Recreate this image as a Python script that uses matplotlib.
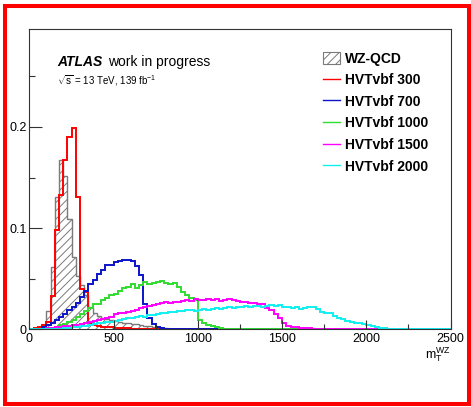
"""
plot.py
=======
Normalised transverse-mass shapes of the WZ-QCD background and the
HVT VBF signal points, drawn ROOT-style.

Run: python plot.py
"""
import numpy as np
import matplotlib
matplotlib.use("Agg")  # headless
import matplotlib.pyplot as plt
from matplotlib.lines import Line2D
from matplotlib.patches import Patch, Rectangle
from matplotlib.ticker import MultipleLocator, FuncFormatter

plt.rcParams["font.family"] = ["Liberation Sans", "DejaVu Sans"]
plt.rcParams["mathtext.fontset"] = "custom"
plt.rcParams["mathtext.rm"] = "Liberation Sans"
plt.rcParams["mathtext.it"] = "Liberation Sans:italic"
plt.rcParams["hatch.linewidth"] = 0.7

# ---------------------------------------------------------------------------
# Binning: 25 GeV bins from 0 to 2500
# ---------------------------------------------------------------------------
edges = np.arange(0, 2525, 25)
n_bins = len(edges) - 1

# Bin contents, listed from the first bin; remaining bins are empty
wz_qcd = [0, 0, 0.001, 0.004, 0.018, 0.061, 0.131, 0.167, 0.151, 0.109,
          0.071, 0.052, 0.044, 0.034, 0.022, 0.016, 0.013, 0.011, 0.010, 0.009,
          0.008, 0.007, 0.006, 0.006, 0.005, 0.005, 0.004, 0.003, 0.003, 0.002,
          0.002, 0.001, 0.001]

hvt_300 = [0, 0.001, 0.002, 0.004, 0.007, 0.033, 0.098, 0.133, 0.167, 0.190,
           0.199, 0.131, 0.040, 0.037, 0.006, 0.004, 0.003, 0.002, 0.002, 0.002,
           0.001, 0.001, 0.001, 0.001]

hvt_700 = [0, 0, 0, 0.002, 0.004, 0.006, 0.009, 0.012, 0.015, 0.019,
           0.022, 0.026, 0.032, 0.038, 0.045, 0.049, 0.054, 0.058, 0.063, 0.063,
           0.066, 0.067, 0.068, 0.068, 0.067, 0.062, 0.053, 0.025, 0.011, 0.005,
           0.002, 0.001]

hvt_1000 = [0, 0, 0, 0, 0, 0.001, 0.002, 0.004, 0.005, 0.007,
            0.009, 0.012, 0.015, 0.018, 0.021, 0.025, 0.025, 0.029, 0.031, 0.034,
            0.035, 0.038, 0.041, 0.042, 0.045, 0.041, 0.044, 0.047, 0.045, 0.046,
            0.047, 0.048, 0.046, 0.045, 0.046, 0.042, 0.037, 0.034, 0.031, 0.029,
            0.009, 0.006, 0.004, 0.003, 0.002, 0.001]

hvt_1500 = [0, 0, 0, 0, 0.001, 0.001, 0.002, 0.002, 0.003, 0.003,
            0.004, 0.004, 0.005, 0.006, 0.007, 0.008, 0.009, 0.010, 0.011, 0.012,
            0.015, 0.016, 0.016, 0.017, 0.018, 0.019, 0.021, 0.022, 0.023, 0.024,
            0.025, 0.026, 0.027, 0.026, 0.027, 0.027, 0.028, 0.029, 0.028, 0.030,
            0.029, 0.029, 0.030, 0.029, 0.030, 0.028, 0.029, 0.030, 0.029, 0.028,
            0.027, 0.027, 0.026, 0.026, 0.025, 0.025, 0.021, 0.019, 0.015, 0.011,
            0.006, 0.003, 0.002, 0.002, 0.001, 0.001, 0.001, 0.0005]

hvt_2000 = [0, 0, 0, 0, 0, 0, 0, 0, 0.001, 0.001,
            0.002, 0.002, 0.003, 0.003, 0.004, 0.005, 0.006, 0.006, 0.007, 0.007,
            0.008, 0.009, 0.010, 0.011, 0.011, 0.012, 0.013, 0.012, 0.014, 0.014,
            0.015, 0.016, 0.016, 0.017, 0.017, 0.018, 0.018, 0.019, 0.019, 0.018,
            0.019, 0.020, 0.019, 0.020, 0.021, 0.020, 0.021, 0.022, 0.021, 0.022,
            0.022, 0.023, 0.022, 0.023, 0.023, 0.022, 0.023, 0.024, 0.023, 0.024,
            0.022, 0.022, 0.021, 0.022, 0.020, 0.021, 0.022, 0.022, 0.020, 0.017,
            0.016, 0.016, 0.013, 0.011, 0.010, 0.008, 0.007, 0.006, 0.006, 0.005,
            0.004, 0.003, 0.002, 0.0013, 0.0008, 0.0005, 0.0003]

signals = [
    ("HVTvbf 300", hvt_300, "#ff0000"),
    ("HVTvbf 700", hvt_700, "#0a14c8"),
    ("HVTvbf 1000", hvt_1000, "#2fdc2f"),
    ("HVTvbf 1500", hvt_1500, "#ff00ff"),
    ("HVTvbf 2000", hvt_2000, "#10f0f0"),
]


def full(values):
    """Pad a short list of bin contents with empty bins up to n_bins."""
    out = np.zeros(n_bins)
    out[:len(values)] = values
    return out


# ---------------------------------------------------------------------------
# Figure
# ---------------------------------------------------------------------------
fig = plt.figure(figsize=(4.71, 4.07), dpi=100)
ax = fig.add_axes([0.0626, 0.1916, 0.894, 0.7371])

bkg_col = "#7a7a7a"
ax.stairs(full(wz_qcd), edges, fill=True, facecolor="white",
          edgecolor=bkg_col, hatch="////", linewidth=0)
ax.stairs(full(wz_qcd), edges, baseline=0, color=bkg_col, linewidth=1.0)

for label, vals, col in signals:
    ax.stairs(full(vals), edges, baseline=0, color=col, linewidth=1.4)

ax.set_xlim(0, 2500)
ax.set_ylim(0, 0.297)

# ROOT-style inward ticks on bottom/left only
ax.xaxis.set_major_locator(MultipleLocator(500))
ax.xaxis.set_minor_locator(MultipleLocator(250))
ax.yaxis.set_major_locator(MultipleLocator(0.1))
ax.yaxis.set_minor_locator(MultipleLocator(0.05))
ax.xaxis.set_major_formatter(FuncFormatter(lambda v, p: f"{v:g}"))
ax.yaxis.set_major_formatter(FuncFormatter(lambda v, p: f"{round(v, 3):g}"))
ax.tick_params(axis="x", which="major", direction="in", length=6.5, width=0.8,
               labelsize=9, pad=3, color="#333333")
ax.tick_params(axis="x", which="minor", direction="in", length=3.3, width=0.8,
               color="#333333")
ax.tick_params(axis="y", which="major", direction="in", length=9, width=0.8,
               labelsize=9, pad=2, color="#333333")
ax.tick_params(axis="y", which="minor", direction="in", length=4.5, width=0.8,
               color="#333333")
for s in ax.spines.values():
    s.set_color("#333333")
    s.set_linewidth(0.8)

ax.text(1.0, -0.085, r"$\mathrm{m}_{\mathrm{T}}^{\mathrm{WZ}}$", transform=ax.transAxes,
        ha="right", va="center", fontsize=9)

# ATLAS label
ax.text(0.066, 0.89, "ATLAS", transform=ax.transAxes, fontsize=10,
        fontweight="bold", fontstyle="italic", va="center")
ax.text(0.187, 0.89, "work in progress", transform=ax.transAxes, fontsize=10,
        va="center")
ax.text(0.066, 0.827, r"$\sqrt{\mathrm{s}}$ = 13 TeV, 139 fb$^{\mathrm{-1}}$",
        transform=ax.transAxes, fontsize=7, va="center")

# Legend
handles = [Patch(facecolor="white", edgecolor=bkg_col, hatch="////", linewidth=0.8)]
labels = ["WZ-QCD"]
for label, vals, col in signals:
    handles.append(Line2D([], [], color=col, linewidth=1.0))
    labels.append(label)
leg = ax.legend(handles, labels, loc="upper left", bbox_to_anchor=(0.697, 0.925),
                frameon=False, fontsize=10, handlelength=1.25, handleheight=1.0,
                handletextpad=0.35, labelspacing=0.55, borderaxespad=0,
                borderpad=0)
for t in leg.get_texts():
    t.set_fontweight("bold")

# Red frame around the canvas
fig.patches.append(Rectangle((5 / 471, 3 / 407), 464 / 471, 398 / 407,
                             transform=fig.transFigure, fill=False,
                             edgecolor="#ff0000", linewidth=2.9))

fig.savefig("out.png", dpi=100)
